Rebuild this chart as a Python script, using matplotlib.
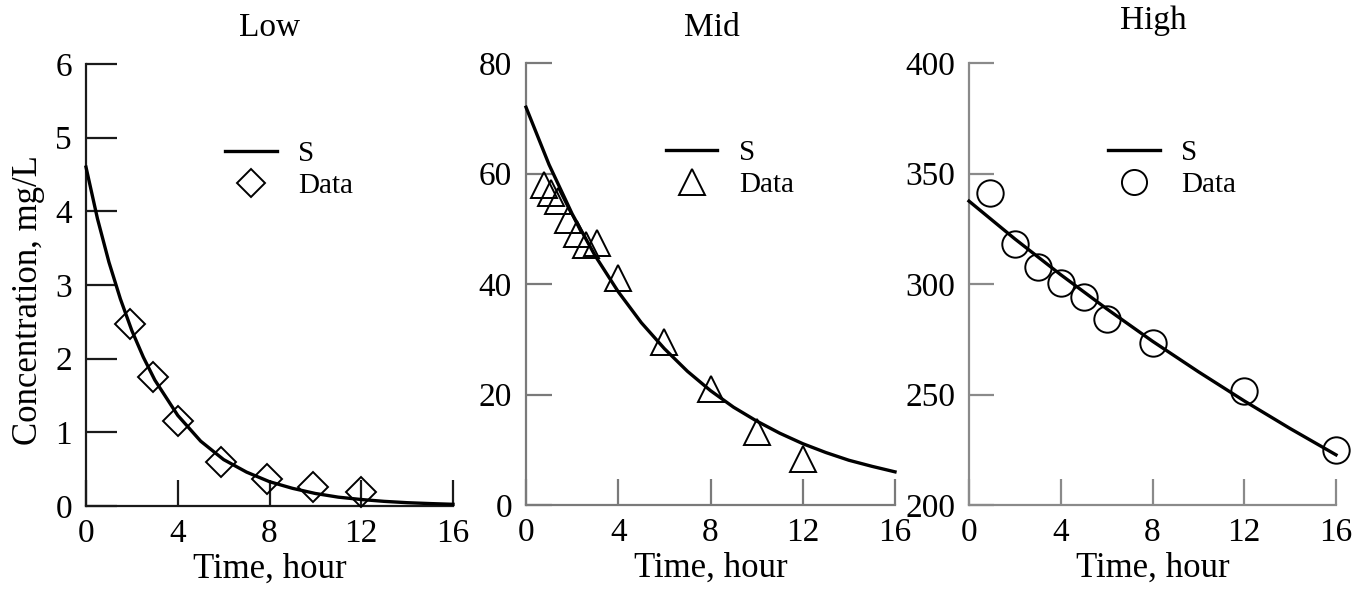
import matplotlib
matplotlib.use("Agg")
import matplotlib.pyplot as plt
from matplotlib.lines import Line2D

plt.rcParams['font.family'] = ['Liberation Serif', 'DejaVu Serif']

# ---- data ----
titles = ["Low", "Mid", "High"]

low_t = [1.9, 2.9, 4.0, 5.9, 7.9, 9.9, 12.0]
low_c = [2.47, 1.75, 1.15, 0.60, 0.36, 0.26, 0.19]
low_fit_t = [0, 0.5, 1, 1.5, 2, 2.5, 3, 4, 5, 6, 7, 8, 9, 10, 11, 12, 13, 14, 15, 16]
low_fit_c = [4.6, 3.9, 3.31, 2.81, 2.38, 2.02, 1.71, 1.23, 0.88, 0.63, 0.46, 0.33,
             0.24, 0.17, 0.12, 0.088, 0.063, 0.045, 0.033, 0.023]

mid_t = [0.8, 1.1, 1.4, 1.8, 2.2, 2.6, 3.1, 4.0, 6.0, 8.0, 10.0, 12.0]
mid_c = [58.0, 56.5, 55.0, 51.5, 49.0, 47.0, 47.5, 41.0, 29.5, 21.0, 13.2, 8.3]
mid_fit_t = [0, 1, 2, 3, 4, 5, 6, 7, 8, 9, 10, 11, 12, 13, 14, 15, 16]
mid_fit_c = [72.0, 61.6, 52.7, 45.1, 38.6, 33.0, 28.3, 24.2, 20.7, 17.7, 15.2,
             13.0, 11.1, 9.5, 8.1, 7.0, 6.0]

high_t = [0.9, 2.0, 3.0, 4.0, 5.0, 6.0, 8.0, 12.0, 16.0]
high_c = [341.0, 318.0, 307.5, 300.5, 294.0, 284.0, 273.5, 251.5, 225.0]
high_fit_t = [0, 2, 4, 6, 8, 10, 12, 14, 16]
high_fit_c = [337.5, 320.4, 304.2, 288.8, 274.1, 260.3, 247.1, 234.6, 222.7]

x_ticks = [0, 4, 8, 12, 16]
low_yticks = [0, 1, 2, 3, 4, 5, 6]
mid_yticks = [0, 20, 40, 60, 80]
high_yticks = [200, 250, 300, 350, 400]

W, H = 1372, 589
fig = plt.figure(figsize=(W / 100, H / 100), dpi=100)

def px_ax(l, r, b, t):
    return fig.add_axes([l / W, 1 - b / H, (r - l) / W, (b - t) / H])

panels = [
    dict(box=(86, 453, 506, 64), t=low_t, c=low_c, ft=low_fit_t, fc=low_fit_c,
         yt=low_yticks, ylim=(0, 6), marker='D', ms=15, axcol='#1a1a1a', ylen=22,
         title_xy=(270, 28)),
    dict(box=(526, 895, 505, 63), t=mid_t, c=mid_c, ft=mid_fit_t, fc=mid_fit_c,
         yt=mid_yticks, ylim=(0, 80), marker='^', ms=19, axcol='#7a7a7a', ylen=19,
         title_xy=(712, 28)),
    dict(box=(969, 1336, 505, 63), t=high_t, c=high_c, ft=high_fit_t, fc=high_fit_c,
         yt=high_yticks, ylim=(200, 400), marker='o', ms=19, axcol='#8a8a8a', ylen=18,
         title_xy=(1153, 21)),
]

for i, p in enumerate(panels):
    l, r, b, t = p['box']
    ax = px_ax(l, r, b, t)
    ax.plot(p['ft'], p['fc'], color='black', lw=2.4, clip_on=False, zorder=3)
    ax.plot(p['t'], p['c'], linestyle='none', marker=p['marker'], ms=p['ms'],
            mfc='none', mec='black', mew=1.4, clip_on=False, zorder=4)
    ax.set_xlim(0, 16)
    ax.set_ylim(*p['ylim'])
    ax.set_xticks(x_ticks)
    ax.set_xticklabels([str(v) for v in x_ticks])
    ax.set_yticks(p['yt'])
    ax.set_yticklabels([str(v) for v in p['yt']])
    for s in ['top', 'right']:
        ax.spines[s].set_visible(False)
    for s in ['left', 'bottom']:
        ax.spines[s].set_color(p['axcol'])
        ax.spines[s].set_linewidth(1.6)
    ax.tick_params(axis='y', direction='in', length=p['ylen'], width=1.6,
                   color=p['axcol'], labelsize=24, pad=10)
    ax.tick_params(axis='x', direction='in', length=19, width=1.6,
                   color=p['axcol'], labelsize=24, pad=9)
    ax.set_xlabel("Time, hour", fontsize=25)
    ax.xaxis.set_label_coords(0.5, -0.106)
    if i == 0:
        ax.set_ylabel("Concentration, mg/L", fontsize=25)
        ax.yaxis.set_label_coords(-0.112, 0.466)
    handles = [Line2D([], [], color='black', lw=2.4),
               Line2D([], [], linestyle='none', marker=p['marker'], ms=p['ms'] * 0.95,
                      mfc='none', mec='black', mew=1.4)]
    ax.legend(handles, ["S", "Data"], loc='upper left', bbox_to_anchor=(0.38, 0.827),
              frameon=False, fontsize=21, handlelength=1.75, handletextpad=0.75,
              labelspacing=0.2, borderpad=0, borderaxespad=0)
    fig.text(p['title_xy'][0] / W, 1 - p['title_xy'][1] / H, titles[i],
             fontsize=24, ha='center', va='center')

fig.savefig("out.png", dpi=100, facecolor='white')
